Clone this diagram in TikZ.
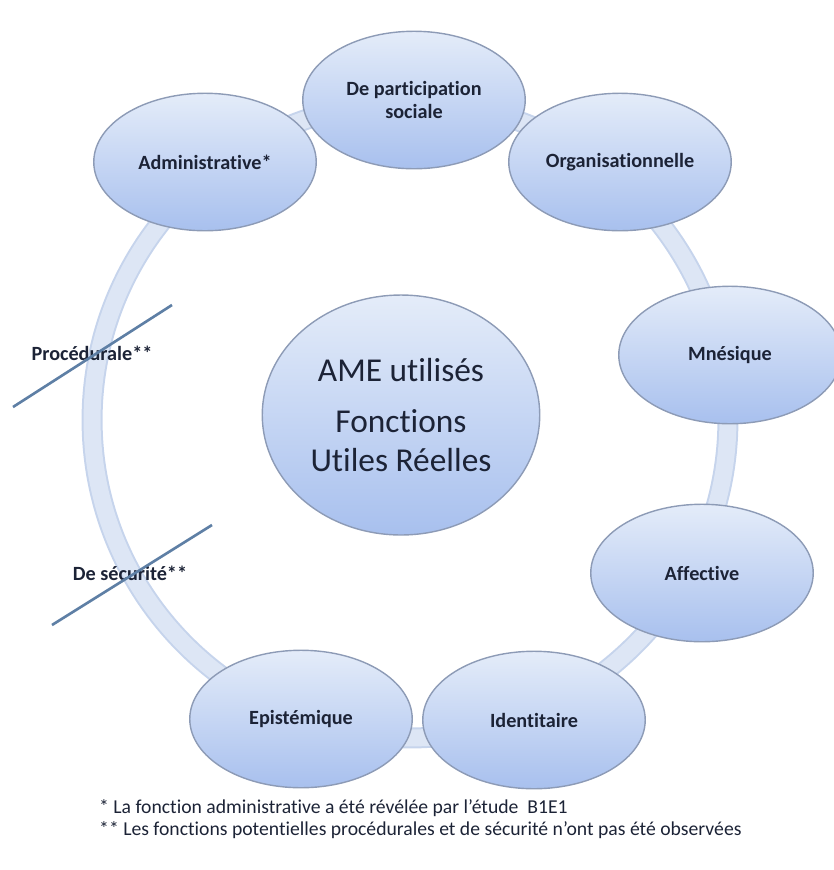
\documentclass[tikz,border=0pt]{standalone}
\usepackage{fontspec}
\setmainfont{Carlito}[Ligatures={TeX,NoCommon}]
\usepackage{xcolor}
\definecolor{AMEtop}{HTML}{E4ECF9}
\definecolor{AMEbottom}{HTML}{A8C0EE}
\definecolor{AMEedge}{HTML}{8D9BB6}
\definecolor{AMEring}{HTML}{DDE6F5}
\definecolor{AMEringedge}{HTML}{C6D4EC}
\definecolor{AMEtext}{HTML}{1C2336}
\definecolor{AMEstrike}{HTML}{5E7FA5}
\usepackage{tikz}
\usetikzlibrary{calc, positioning, shapes.geometric}

\begin{document}
\begin{tikzpicture}[x=0.02cm, y=-0.02cm,
  fonction/.style={ellipse, draw=AMEedge, line width=0.8pt,
    top color=AMEtop, bottom color=AMEbottom,
    minimum width=4.45cm, minimum height=2.75cm, inner sep=0pt,
    align=center, text=AMEtext, font=\bfseries\fontsize{11.5}{13.5}\selectfont},
  barre/.style={draw=AMEstrike, line width=1.5pt},
  potentiel/.style={text=AMEtext, font=\bfseries\fontsize{11.5}{13.5}\selectfont},
  note/.style={anchor=west, text=AMEtext, font=\fontsize{11.2}{13}\selectfont}]
\useasboundingbox (0,0) rectangle (833,870);
% Ring linking the functions
\draw[AMEringedge, line width=0.42cm] (410,420) circle[radius=6.36cm];
\draw[AMEring, line width=0.34cm] (410,420) circle[radius=6.36cm];
% Functions around the ring
\node[fonction] (participation) at (414,100) {De participation\\sociale};
\node[fonction] (administrative) at (205,162) {Administrative*};
\node[fonction] (organisation) at (620,162) {Organisationnelle};
\node[fonction] (mnesique) at (730,355) {Mnésique};
\node[fonction] (affective) at (702,573) {Affective};
\node[fonction] (identitaire) at (534,720) {Identitaire};
\node[fonction] (epistemique) at (301,719) {Epistémique};
% Centre
\node[fonction, minimum width=5.55cm, minimum height=4.8cm,
  font=\fontsize{19}{22}\selectfont] (ame) at (401,415)
  {AME utilisés\\[7pt] Fonctions\\Utiles Réelles};
% Potential functions, struck out
\node[potentiel] (procedurale) at (92,353) {Procédurale**};
\coordinate (procA) at (13,407);
\coordinate (procB) at (172,305);
\draw[barre] (procA) -- (procB);
\node[potentiel] (securite) at (130,573) {De sécurité**};
\coordinate (secuA) at (52,625);
\coordinate (secuB) at (212,525);
\draw[barre] (secuA) -- (secuB);
% Notes
\node[note] (note1) at (93,808)
  {* La fonction administrative a été révélée par l’étude\ \ B1E1};
\node[note] (note2) at (93,830)
  {** Les fonctions potentielles procédurales et de sécurité n’ont pas été observées};
\end{tikzpicture}
\end{document}
